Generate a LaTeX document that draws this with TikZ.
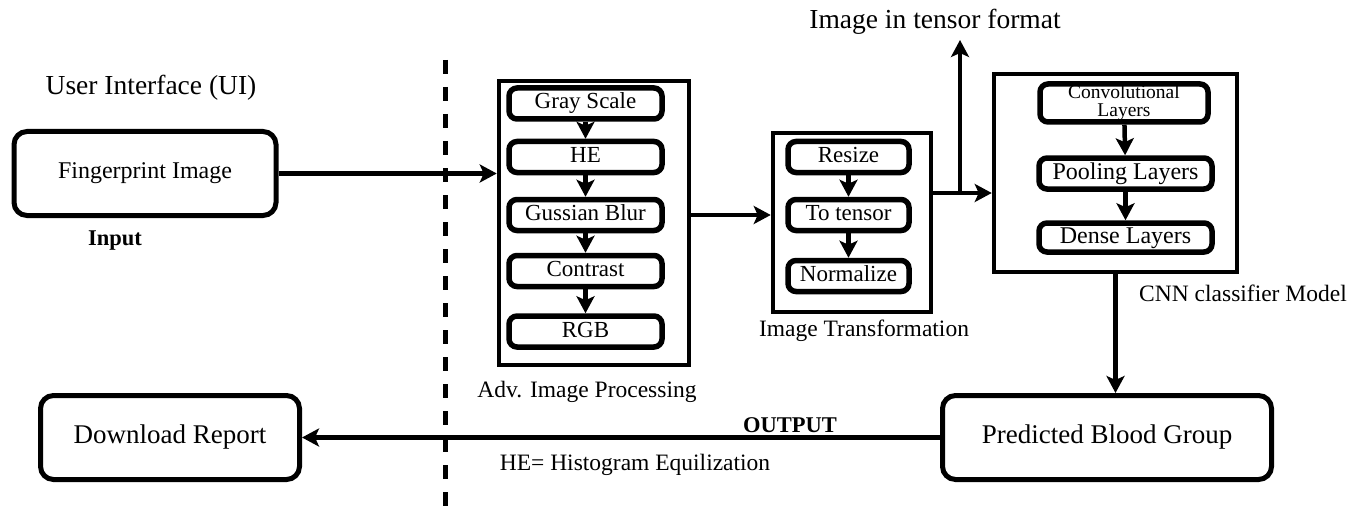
\documentclass[tikz,border=0pt]{standalone}
\usepackage{fontspec}
\setmainfont{Liberation Serif}
\usetikzlibrary{arrows.meta,calc}
\begin{document}
\begin{tikzpicture}[x=1pt,y=-1pt,
  conn/.style={line width=4.5pt},
  arr/.style={conn,-{Stealth[length=17pt,width=18pt,inset=4pt]}},
  bigbox/.style={draw,line width=5pt,rounded corners=13pt,inner sep=0pt,font=\fontsize{27}{30}\selectfont},
  frame/.style={draw,line width=4.5pt,inner sep=0pt},
  stepbox/.style={draw,line width=5.5pt,rounded corners=8pt,inner sep=0pt,font=\fontsize{23}{25}\selectfont,text height=15.5pt,text depth=4.5pt},
  lbl/.style={inner sep=0pt,font=\fontsize{23.5}{26}\selectfont}]
\useasboundingbox (0,0) rectangle (1349,508);

% left column
\node[lbl,font=\fontsize{27.5}{30}\selectfont] (ui) at (151,88) {User Interface (UI)};
\node[bigbox,font=\fontsize{24}{26}\selectfont,minimum width=262pt,minimum height=84pt] (fp) at (145,173.5) {Fingerprint Image};
\node[lbl,font=\fontsize{22.5}{24}\selectfont\bfseries] (input) at (115,241) {Input};
\node[bigbox,minimum width=259pt,minimum height=84pt] (dl) at (170,437.5) {Download Report};

% dashed separator
\coordinate (dtop) at (445,60);
\coordinate (dbot) at (445,508);
\draw[line width=5pt,dash pattern=on 14pt off 13pt] (dtop) -- (dbot);

% advanced image processing
\node[frame,minimum width=190pt,minimum height=284pt] (adv) at (594,223) {};
\node[stepbox,minimum width=153pt,minimum height=31pt] (gs) at (585.5,103.5) {Gray Scale};
\node[stepbox,minimum width=153pt,minimum height=31pt] (he) at (585.5,157) {HE};
\node[stepbox,minimum width=153pt,minimum height=31pt] (gb) at (585.5,215) {Gussian Blur};
\node[stepbox,minimum width=153pt,minimum height=31pt] (ct) at (585.5,271) {Contrast};
\node[stepbox,minimum width=153pt,minimum height=31pt] (rgb) at (585.5,331.5) {RGB};
\node[lbl] (advlbl) at (587,392) {Adv. Image Processing};

% image transformation
\node[frame,minimum width=158pt,minimum height=179pt] (tr) at (852,222.5) {};
\node[stepbox,minimum width=121pt,minimum height=31pt] (rs) at (848.5,157) {Resize};
\node[stepbox,minimum width=121pt,minimum height=31pt] (tt) at (848.5,215) {To tensor};
\node[stepbox,minimum width=121pt,minimum height=31pt] (nm) at (848.5,276) {Normalize};
\node[lbl] (trlbl) at (864,331) {Image Transformation};
\node[lbl,font=\fontsize{27.5}{30}\selectfont] (tensorlbl) at (935,22) {Image in tensor format};

% CNN
\node[frame,minimum width=243pt,minimum height=198pt] (cnn) at (1115.5,173) {};
\node[stepbox,font=\fontsize{19.5}{21}\selectfont,text height=,text depth=,align=center,minimum width=168pt,minimum height=38pt] (conv) at (1124,103) {Convolutional\\[-3pt]Layers};
\node[stepbox,font=\fontsize{24}{26}\selectfont,minimum width=173pt,minimum height=31pt] (pool) at (1125.5,173.5) {Pooling Layers};
\node[stepbox,font=\fontsize{24}{26}\selectfont,minimum width=173pt,minimum height=29pt] (dense) at (1125.5,237.5) {Dense Layers};
\node[lbl] (cnnlbl) at (1243,293) {CNN classifier Model};

% output
\node[bigbox,minimum width=329pt,minimum height=84pt] (pbg) at (1107,437.5) {Predicted Blood Group};
\node[lbl,font=\fontsize{22.5}{24}\selectfont\bfseries] (outlbl) at (790,425) {OUTPUT};
\node[lbl] (helbl) at (635,465) {HE= Histogram Equilization};

% connectors
\draw[arr] (fp.east) -- (fp.east -| adv.west);
\draw[arr] (gs) -- (he);
\draw[arr] (he) -- (gb);
\draw[arr] (gb) -- (ct);
\draw[arr] (ct) -- (rgb);
\draw[arr] (adv.east |- gb) -- (tr.west |- gb);
\draw[arr] (rs) -- (tt);
\draw[arr] (tt) -- (nm);
\coordinate (j) at (960,193);
\coordinate (jt) at (960,40);
\draw[arr] (tr.east |- j) -- (cnn.west |- j);
\draw[arr] (j) -- (jt);
\draw[arr] (conv) -- (pool);
\draw[arr] (pool) -- (dense);
\draw[arr] (cnn.south) -- (cnn.south |- pbg.north);
\draw[arr] (pbg.west) -- (dl.east);
\end{tikzpicture}
\end{document}
